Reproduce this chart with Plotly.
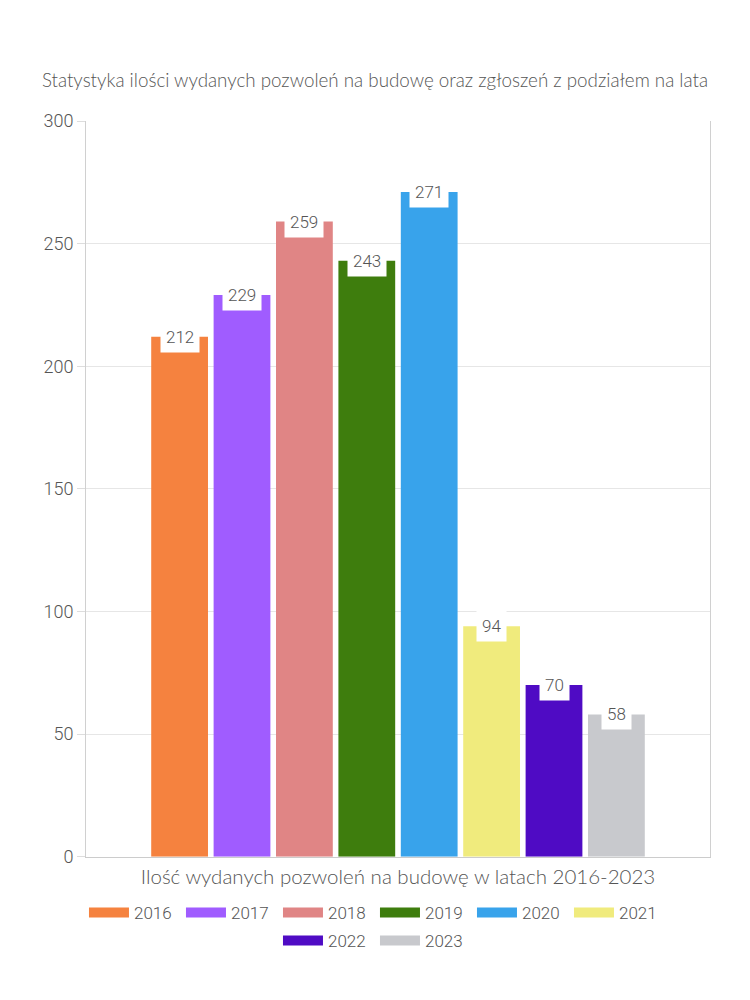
import plotly.graph_objects as go

years = ["2016", "2017", "2018", "2019", "2020", "2021", "2022", "2023"]
values = [212, 229, 259, 243, 271, 94, 70, 58]
colors = ["#F5823F", "#A05CFF", "#E08585", "#3E7D0D", "#38A3EB", "#F0EB7D", "#4F0BC4", "#C8C9CD"]

title_text = "Statystyka ilości wydanych pozwoleń na budowę oraz zgłoszeń z podziałem na lata"
xaxis_title = "Ilość wydanych pozwoleń na budowę w latach 2016-2023"
y_ticks = [0, 50, 100, 150, 200, 250, 300]

TXT = "#555555"

fig = go.Figure()
for yr, v, c in zip(years, values, colors):
    fig.add_trace(go.Bar(x=[yr], y=[v], name=yr, marker=dict(color=c, line=dict(width=0)),
                         width=0.91, showlegend=False, hoverinfo="x+y"))
for i, (yr, c) in enumerate(zip(years, colors)):
    fig.add_trace(go.Scatter(x=[None], y=[None], mode="lines", name=yr,
                             line=dict(color=c, width=18),
                             legend="legend" if i < 6 else "legend2"))

for i, v in enumerate(values):
    fig.add_annotation(x=i, y=v, text=str(v), showarrow=False, xref="x", yref="y",
                       yanchor="middle", bgcolor="white", borderpad=5,
                       font=dict(family="Roboto", size=17, color=TXT, weight=300))

legend_common = dict(orientation="h", xref="container", x=0.4893, xanchor="center",
                     yref="container", yanchor="top", itemwidth=40,
                     entrywidth=42, tracegroupgap=0,
                     font=dict(family="Roboto", size=17, color=TXT, weight=300))

fig.update_layout(
    width=750, height=1000,
    margin=dict(l=78, r=48, t=113, b=150),
    paper_bgcolor="white", plot_bgcolor="white",
    barmode="overlay",
    title=dict(text=title_text, x=0.4893, xref="container", xanchor="center",
               y=0.928, yref="container", yanchor="middle",
               font=dict(family="Lato", size=18.8, color=TXT, weight=300)),
    xaxis=dict(type="category", range=[-1.5, 8.5], showticklabels=False,
               showline=True, linecolor="#cccccc", showgrid=False, ticks="",
               title=dict(text=xaxis_title, standoff=12,
                          font=dict(family="Lato", size=20.5, color=TXT, weight=300))),
    yaxis=dict(range=[0, 300], tickvals=y_ticks, showline=True, linecolor="#d0d0d0",
               mirror=True, gridcolor="#e6e6e6", ticks="outside", ticklen=8,
               tickcolor="#dddddd", zeroline=False,
               tickfont=dict(family="Roboto", size=18, color=TXT, weight=300)),
    legend=dict(y=0.113, **legend_common),
    legend2=dict(y=0.085, **legend_common),
    showlegend=True,
)

fig.write_html("out.html")
